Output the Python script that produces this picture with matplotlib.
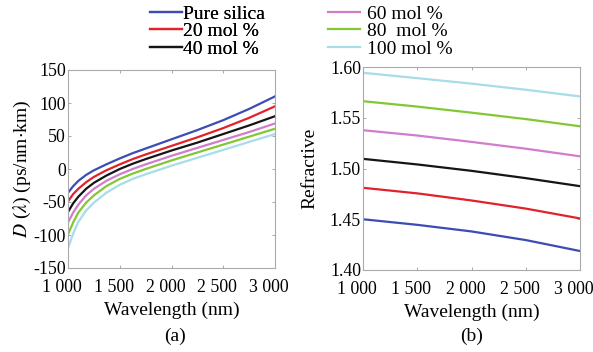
import matplotlib
matplotlib.use("Agg")
import matplotlib.pyplot as plt
import matplotlib.transforms as mtransforms
from matplotlib.ticker import FixedLocator, FuncFormatter

plt.rcParams['font.family'] = 'serif'
plt.rcParams['font.serif'] = ['Liberation Serif', 'Times New Roman', 'DejaVu Serif']
plt.rcParams['mathtext.fontset'] = 'stix'

series_names = ["Pure silica", "20 mol %", "40 mol %", "60 mol %", "80  mol %", "100 mol %"]
series_colors = ["#3c4cb4", "#e2222a", "#151515", "#d27ccc", "#82c834", "#a6dde8"]

wl_d = [1000, 1050, 1100, 1175, 1250, 1370, 1500, 1625, 1750, 2000, 2250, 2500, 2750, 3000]
d_pure = [-36, -26, -18, -9, -2, 7, 16, 24, 31, 45, 59, 74, 91, 110]
d_20 = [-49, -38, -30, -20, -12, -2, 7, 15, 22, 35, 48, 62, 77.5, 95]
d_40 = [-65, -52, -42, -30, -21, -10, 0, 8, 15, 28, 40, 53, 66, 80]
d_60 = [-81, -66, -54, -40, -30, -18, -8, 0, 7, 20, 32, 44, 56, 69]
d_80 = [-99, -81, -66, -51, -40, -26, -15, -7, 0, 13, 25, 37, 49, 61]
d_100 = [-120, -98, -80, -63, -51, -36, -24, -15, -8, 5, 17, 29, 41, 53]

wl_n = [1000, 1500, 2000, 2500, 3000]
n_pure = [1.4500, 1.4445, 1.4380, 1.4295, 1.4187]
n_20 = [1.4810, 1.4755, 1.4685, 1.4605, 1.4508]
n_40 = [1.5095, 1.5040, 1.4977, 1.4905, 1.4826]
n_60 = [1.5377, 1.5325, 1.5262, 1.5195, 1.5120]
n_80 = [1.5663, 1.5610, 1.5550, 1.5487, 1.5416]
n_100 = [1.5943, 1.5890, 1.5836, 1.5776, 1.5710]

x_ticks = [1000, 1500, 2000, 2500, 3000]
x_tick_labels = ["1 000", "1 500", "2 000", "2 500", "3 000"]
d_ticks = [-150, -100, -50, 0, 50, 100, 150]
n_ticks = [1.40, 1.45, 1.50, 1.55, 1.60]

fig = plt.figure(figsize=(5.93, 3.52), dpi=100)
ax1 = fig.add_axes([68/593, 1-268/352, 207/593, 198/352])
ax2 = fig.add_axes([363/593, 1-270/352, 217/593, 203/352])

fs = 14
tfs = 12.8
lines = []
for d, c, name in zip([d_pure, d_20, d_40, d_60, d_80, d_100], series_colors, series_names):
    l, = ax1.plot(wl_d, d, color=c, lw=1.6, label=name)
    lines.append(l)
for n, c in zip([n_pure, n_20, n_40, n_60, n_80, n_100], series_colors):
    ax2.plot(wl_n, n, color=c, lw=1.6)

shift = mtransforms.ScaledTranslation(-6/100, 0, fig.dpi_scale_trans)
for ax in (ax1, ax2):
    ax.set_xlim(1000, 3000)
    ax.xaxis.set_major_locator(FixedLocator(x_ticks))
    ax.set_xticklabels(x_tick_labels)
    ax.tick_params(direction='in', length=2.5, width=0.6, color='#999999',
                   top=True, right=True, labelsize=tfs)
    ax.tick_params(axis='x', pad=8)
    ax.tick_params(axis='y', pad=1.5)
    for lab in ax.get_xticklabels():
        lab.set_transform(lab.get_transform() + shift)
    for s in ax.spines.values():
        s.set_color('#aaaaaa')
        s.set_linewidth(0.8)
    ax.set_xlabel("Wavelength (nm)", fontsize=fs, labelpad=4)

ax1.set_ylim(-150, 150)
ax1.set_yticks(d_ticks)
ax1.yaxis.set_major_formatter(FuncFormatter(lambda v, p: "%d" % v))
ax1.set_ylabel(r"$D$ ($\lambda$) (ps/nm$\cdot$km)", fontsize=fs, labelpad=0)

ax2.set_ylim(1.40, 1.60)
ax2.set_yticks(n_ticks)
ax2.set_yticklabels(["%.2f" % v for v in n_ticks])
ax2.set_ylabel("Refractive", fontsize=fs, labelpad=8)

fig.text(175/593, 1-336/352, "(a)", fontsize=fs, ha='center', va='center')
fig.text(472/593, 1-336/352, "(b)", fontsize=fs, ha='center', va='center')

leg1 = fig.legend(handles=lines[:3], loc='upper left', bbox_to_anchor=(148/593, 1-3/352),
                  frameon=False, fontsize=fs, handlelength=1.65, handletextpad=0.05,
                  labelspacing=0.0, borderaxespad=0, borderpad=0.1)
fig.add_artist(leg1)
leg2 = fig.legend(handles=lines[3:], loc='upper left', bbox_to_anchor=(326/593, 1-3/352),
                  frameon=False, fontsize=fs, handlelength=1.65, handletextpad=0.35,
                  labelspacing=0.0, borderaxespad=0, borderpad=0.1)

fig.savefig("out.png", dpi=100)
